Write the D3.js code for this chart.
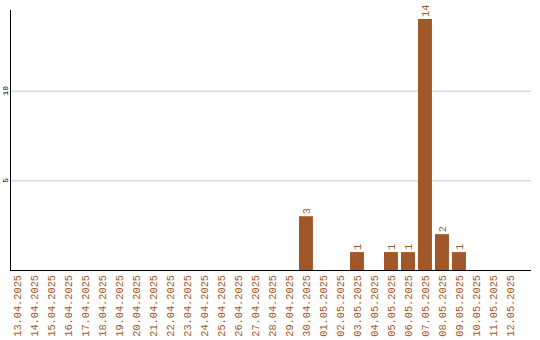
<!DOCTYPE html>
<meta charset="utf-8">
<script src="https://d3js.org/d3.v7.min.js"></script>
<style>
body { margin: 0; background: #fff; }
.grid line { stroke: #c8c8c8; stroke-width: 1px; }
.grid path { display: none; }
.y.axis path, .y.axis line { display: none; }
.y.axis text { font-family: "Liberation Mono", monospace; font-size: 8px; fill: #000; }
.x.axis path, .x.axis line { display: none; }
.x.axis text { font-family: "Liberation Mono", monospace; font-size: 10.3px; fill: #a0582a; }
.valText { font-family: "Liberation Mono", monospace; font-size: 10.3px; fill: #a0582a; }
</style>
<body></body>
<script>
// data
var dates = ['13.04.2025','14.04.2025','15.04.2025','16.04.2025','17.04.2025','18.04.2025',
  '19.04.2025','20.04.2025','21.04.2025','22.04.2025','23.04.2025','24.04.2025','25.04.2025',
  '26.04.2025','27.04.2025','28.04.2025','29.04.2025','30.04.2025','01.05.2025','02.05.2025',
  '03.05.2025','04.05.2025','05.05.2025','06.05.2025','07.05.2025','08.05.2025','09.05.2025',
  '10.05.2025','11.05.2025','12.05.2025'];
var counts = [0,0,0,0,0,0,0,0,0,0,0,0,0,0,0,0,0,3,0,0,1,0,1,1,14,2,1,0,0,0];
var yTicks = [5, 10];

var data = dates.map(function(d, i) { return {date: d, count: counts[i]}; });

var width = 540, height = 340;
var mLeft = 10, mRight = 531, mTop = 10, mBottom = 270;

var svg = d3.select('body').append('svg')
  .attr('width', width)
  .attr('height', height);

var xScale = d3.scaleBand()
  .domain(dates)
  .range([mLeft, 520])
  .paddingInner(0.18)
  .paddingOuter(0.09)
  .align(0);

var yScale = d3.scaleLinear()
  .domain([0, 14.5])
  .range([mBottom, mTop]);

// gridlines
svg.append('g')
  .attr('class', 'grid')
  .attr('transform', 'translate(' + mLeft + ',0)')
  .call(d3.axisRight(yScale).tickValues(yTicks).tickSize(mRight - mLeft).tickFormat(''));

// y labels
svg.append('g')
  .attr('class', 'y axis')
  .call(d3.axisLeft(yScale).tickValues(yTicks).tickSize(0))
  .selectAll('.tick')
  .attr('transform', function(d) { return 'translate(5,' + yScale(d) + ')'; })
  .select('text')
  .attr('transform', 'rotate(-90)')
  .attr('x', 0).attr('y', 0).attr('dy', '0.35em')
  .style('text-anchor', 'middle');

// bars
svg.selectAll('.bar')
  .data(data.filter(function(d) { return d.count > 0; }))
  .enter().append('rect')
  .attr('class', 'bar')
  .attr('x', function(d) { return xScale(d.date); })
  .attr('width', xScale.bandwidth())
  .attr('y', function(d) { return yScale(d.count); })
  .attr('height', function(d) { return mBottom - yScale(d.count); })
  .style('fill', '#a0582a');

// value labels
svg.selectAll('.valText')
  .data(data.filter(function(d) { return d.count > 0; }))
  .enter().append('text')
  .attr('class', 'valText')
  .attr('transform', function(d) {
    return 'translate(' + (xScale(d.date) + xScale.bandwidth() / 2) + ',' + (yScale(d.count) - 2) + ') rotate(-90)';
  })
  .attr('dy', '0.35em')
  .style('text-anchor', 'start')
  .text(function(d) { return d.count; });

// x labels
svg.append('g')
  .attr('class', 'x axis')
  .attr('transform', 'translate(0,' + mBottom + ')')
  .call(d3.axisBottom(xScale).tickSize(0))
  .selectAll('text')
  .attr('transform', 'rotate(-90)')
  .attr('x', -5).attr('y', 0).attr('dy', '0.35em')
  .style('text-anchor', 'end');

// axis lines
svg.append('line')
  .attr('x1', mLeft + 0.5).attr('x2', mLeft + 0.5)
  .attr('y1', mTop).attr('y2', mBottom + 1)
  .style('stroke', '#000');
svg.append('line')
  .attr('x1', mLeft).attr('x2', mRight)
  .attr('y1', mBottom + 0.5).attr('y2', mBottom + 0.5)
  .style('stroke', '#000');
</script>
